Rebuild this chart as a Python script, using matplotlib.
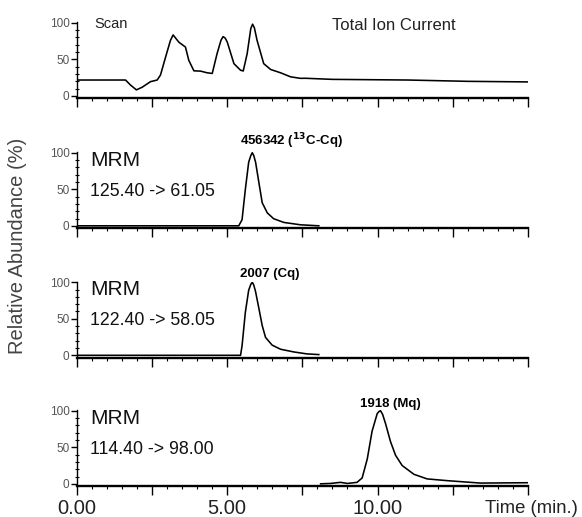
import numpy as np
import matplotlib
matplotlib.use("Agg")
import matplotlib.pyplot as plt

plt.rcParams['font.family'] = ['Liberation Sans', 'DejaVu Sans']

# Total ion current (scan)
tic_t = [0.0, 0.8, 1.63, 1.79, 1.99, 2.18, 2.46, 2.68, 2.79, 2.96, 3.12, 3.21, 3.40, 3.62,
         3.73, 3.90, 4.12, 4.34, 4.51, 4.67, 4.80, 4.87, 4.94, 5.01, 5.23, 5.45, 5.54, 5.67,
         5.79, 5.85, 5.91, 6.00, 6.22, 6.45, 6.78, 7.11, 7.44, 7.6, 8.5, 11.0, 13.0, 15.0]
tic_v = [21.6, 21.6, 21.6, 14.9, 8.1, 11.7, 19.4, 21.6, 28.4, 53, 75.7, 83.3, 73.4, 66.7,
         48.6, 34.2, 33.8, 31.5, 30.6, 57.7, 76, 81, 79, 73.4, 44, 35, 34, 57.7,
         92, 98, 93, 75.7, 44, 36, 31.5, 26, 23.9, 24, 22.5, 21.6, 19.8, 19]

# MRM 125.40 -> 61.05 (13C-Cq)
c13_t = [0.0, 5.39, 5.50, 5.61, 5.72, 5.79, 5.84, 5.89, 5.95, 6.06, 6.17, 6.34, 6.55, 6.89,
         7.44, 8.05]
c13_v = [0, 0, 8.3, 50, 87, 96, 100, 96, 87, 59, 31.5, 17.6, 9.7, 4.6, 1.4, 0]

# MRM 122.40 -> 58.05 (Cq)
cq_t = [0.0, 5.45, 5.50, 5.61, 5.72, 5.79, 5.84, 5.89, 5.95, 6.06, 6.17, 6.28, 6.50, 6.78,
        7.22, 7.66, 8.05]
cq_v = [0, 0, 13, 59, 89, 97, 100, 96, 87, 64, 40.7, 24.5, 13.9, 8.3, 4.6, 1.9, 1]

# MRM 114.40 -> 98.00 (Mq)
mq_t = [8.11, 8.44, 8.77, 9.0, 9.32, 9.49, 9.66, 9.82, 9.99, 10.05, 10.10, 10.17, 10.27,
        10.43, 10.60, 10.82, 11.21, 11.65, 12.32, 13.42, 15.0]
mq_v = [0, 0.5, 2, 0.5, 2, 8, 34, 72, 96, 99, 100, 95, 82, 58, 39, 25, 13, 6.7, 4.3, 1, 1.5]

series = [(tic_t, tic_v), (c13_t, c13_v), (cq_t, cq_v), (mq_t, mq_v)]
transitions = ["125.40 -> 61.05", "122.40 -> 58.05", "114.40 -> 98.00"]
peak_labels = [r"456342 ($^{\mathbf{13}}$C-Cq)", "2007 (Cq)", "1918 (Mq)"]
peak_label_pos = [(5.42, 103), (5.42, 103), (9.43, 101)]
xtick_vals = np.arange(0, 15.1, 2.5)
xtick_text = ['0.00', '', '5.00', '', '10.00', '', '']

fig = plt.figure(figsize=(5.82, 5.17), dpi=100)
bottoms_px = [98, 228, 357.5, 486]
axes = []
for i, b in enumerate(bottoms_px):
    ax = fig.add_axes([76.5 / 582, 1 - b / 517, 451.5 / 582, 76 / 517])
    t, v = series[i]
    ax.plot(t, v, color='black', lw=1.15)
    ax.set_xlim(0, 15)
    ax.set_ylim(-3, 101)
    ax.spines['top'].set_visible(False)
    ax.spines['right'].set_visible(False)
    ax.spines['left'].set_linewidth(1.0)
    ax.spines['bottom'].set_linewidth(1.7)
    ax.set_yticks([0, 50, 100])
    ax.set_yticks(np.arange(0, 101, 10), minor=True)
    ax.set_xticks(xtick_vals)
    ax.set_xticks(np.arange(0, 15.01, 0.5), minor=True)
    ax.tick_params(axis='y', which='major', direction='out', length=4, width=1,
                   labelsize=8.5, labelcolor='#555555', pad=1)
    ax.tick_params(axis='y', which='minor', direction='inout', length=3, width=0.8)
    ax.tick_params(axis='x', which='major', direction='out', length=6.5, width=1)
    ax.tick_params(axis='x', which='minor', direction='out', length=2.5, width=0.8)
    if i < 3:
        ax.set_xticklabels([])
    else:
        ax.set_xticklabels(xtick_text, fontsize=14.5, color='#222222')
        ax.tick_params(axis='x', which='major', pad=3)
        ax.text(0.905, -0.30, "Time (min.)", transform=ax.transAxes, fontsize=13.3,
                color='#222222', ha='left', va='center')
    axes.append(ax)

axes[0].text(0.6, 98, "Scan", fontsize=10.5, color='#222222', ha='left', va='center')
axes[0].text(8.5, 96, "Total Ion Current", fontsize=12, color='#222222',
             ha='left', va='center')

for k in range(3):
    ax = axes[k + 1]
    ax.text(0.45, 90, "MRM", fontsize=15, color='#111111', ha='left', va='center')
    ax.text(0.45, 47, transitions[k], fontsize=12.8, color='#111111', ha='left', va='center')
    px, py = peak_label_pos[k]
    ax.text(px, py, peak_labels[k], fontsize=9.5, fontweight='bold', color='black',
            ha='left', va='bottom')

fig.text(18 / 582, 1 - 246 / 517, "Relative Abundance (%)", rotation=90,
         fontsize=14.5, color='#444444', ha='center', va='center')

fig.savefig("out.png", dpi=100)
